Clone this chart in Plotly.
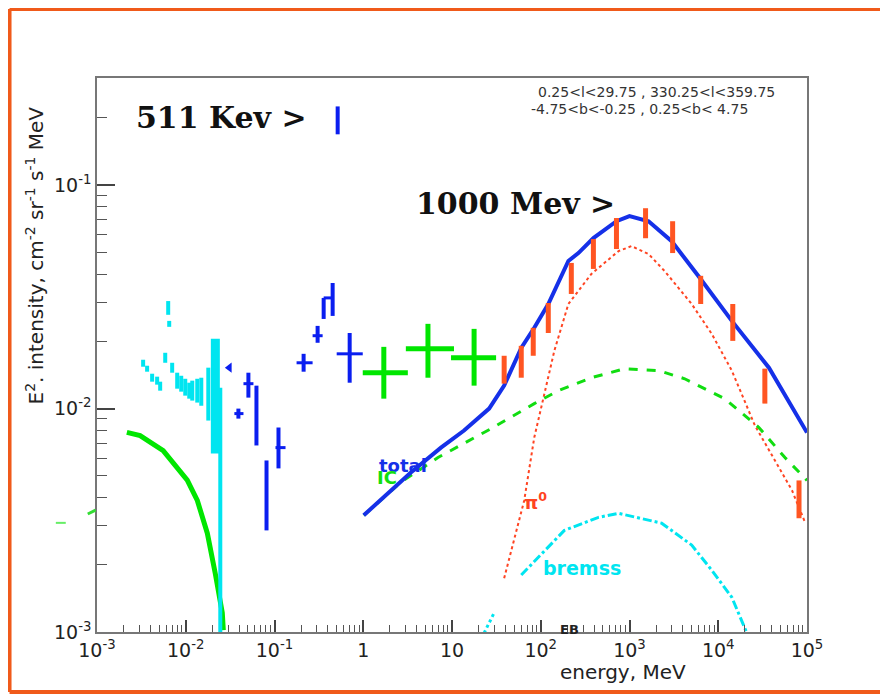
import plotly.graph_objects as go

# ---------------- data ----------------
# low-energy thick green model curve
lowE_E = [0.00217, 0.00306, 0.00557, 0.00802, 0.0104, 0.0135, 0.0175, 0.0215, 0.0258, 0.0265]
lowE_I = [0.00783, 0.00757, 0.00649, 0.00546, 0.00478, 0.00388, 0.00277, 0.00183, 0.00122, 0.00102]

# cyan low-energy data (energy, low, high)
cy_E = [0.00331, 0.00367, 0.00418, 0.00476, 0.00515, 0.00587, 0.00634, 0.00651, 0.00703,
        0.00801, 0.00889, 0.00987, 0.01095, 0.01184, 0.01348, 0.01496, 0.01795]
cy_lo = [0.01540, 0.01463, 0.01320, 0.01280, 0.01203, 0.01604, 0.02630, 0.02323, 0.01448,
         0.01228, 0.01191, 0.01143, 0.01108, 0.01086, 0.01064, 0.01030, 0.00884]
cy_hi = [0.01655, 0.01556, 0.01433, 0.01390, 0.01320, 0.01778, 0.03030, 0.02470, 0.01604,
         0.01448, 0.01403, 0.01360, 0.01306, 0.01334, 0.01360, 0.01375, 0.01525]
cy_big_E = [0.02155]
cy_big_lo = [0.0063]
cy_big_hi = [0.02053]
cy_last_E = [0.0245]
cy_last_lo = [0.0005]
cy_last_hi = [0.0124]

# blue data: vertical error bars
bl_E = [0.0392, 0.0508, 0.0626, 0.0813, 0.1109, 0.2128, 0.306, 0.358, 0.452, 0.703, 0.515]
bl_lo = [0.00902, 0.0112, 0.00684, 0.00285, 0.0054, 0.01463, 0.01971, 0.0252, 0.0260, 0.01306, 0.169]
bl_hi = [0.0100, 0.01448, 0.01267, 0.00586, 0.00823, 0.01759, 0.02346, 0.0313, 0.0365, 0.0218, 0.2253]
# blue data: horizontal error bars
blh_I = [0.0095, 0.01293, 0.00669, 0.01604, 0.0212, 0.0313, 0.01759]
blh_lo = [0.0353, 0.0447, 0.1026, 0.1773, 0.2687, 0.358, 0.502]
blh_hi = [0.0447, 0.0579, 0.1331, 0.2687, 0.3486, 0.452, 0.987]
bl_arrow_E = [0.0310]
bl_arrow_I = [0.01525]

# green crosses
gr_E = [1.705, 5.36, 17.74]
gr_Elo = [0.987, 3.02, 9.75]
gr_Ehi = [3.18, 10.53, 31.4]
gr_I = [0.01448, 0.01854, 0.0169]
gr_Ilo = [0.01108, 0.01375, 0.01267]
gr_Ihi = [0.0189, 0.02396, 0.02275]

# red (EGRET) data
rd_E = [38.7, 60.3, 82.3, 121.6, 221, 392, 713, 1517, 3062, 6340, 14580, 33500, 81300]
rd_lo = [0.01293, 0.01375, 0.01724, 0.0218, 0.0326, 0.0422, 0.0518, 0.0579, 0.0497,
         0.0294, 0.0201, 0.01053, 0.00323]
rd_hi = [0.01724, 0.0191, 0.0230, 0.0297, 0.0449, 0.0574, 0.0713, 0.0789, 0.0690,
         0.0393, 0.0294, 0.0151, 0.00477]

# model curves
tot_E = [1.013, 3.44, 7.51, 13.67, 26.2, 38.7, 60.3, 84.5, 121.6, 204.8, 265.5, 392, 713,
         1000, 1640, 2985, 6180, 14220, 37240, 100000]
tot_I = [0.00333, 0.00518, 0.00669, 0.00798, 0.0100, 0.01267, 0.01871, 0.0230, 0.0294,
         0.0458, 0.0497, 0.0580, 0.0690, 0.0727, 0.0690, 0.0562, 0.0385, 0.0247, 0.01525, 0.00781]

ic_E = [1.013, 2.65, 6.95, 27.6, 84.5, 157.8, 372, 879, 2130, 4190, 11840, 28700, 56400, 100000]
ic_I = [0.00333, 0.00468, 0.00604, 0.00814, 0.01053, 0.01203, 0.01375, 0.01509, 0.01479,
        0.0136, 0.01108, 0.00823, 0.00604, 0.00477]

pi_E = [38.7, 48.9, 65.1, 84.5, 109.6, 142.3, 204.8, 372, 752, 1054, 1640, 2485, 5020,
        8450, 14220, 25900, 43500, 67700, 94900]
pi_I = [0.00174, 0.00249, 0.00388, 0.00742, 0.01143, 0.01815, 0.0294, 0.0401, 0.0507,
        0.0534, 0.0492, 0.0413, 0.0294, 0.0216, 0.01479, 0.00840, 0.00586, 0.00431, 0.0031]

br_E = [60.3, 93.7, 184.5, 447, 752, 2300, 5020, 8450, 14220, 21000]
br_I = [0.0018, 0.00216, 0.00285, 0.00326, 0.0034, 0.00307, 0.00245, 0.00189, 0.00143, 0.00099]
br2_E = [23.0, 29.9]
br2_I = [0.00099, 0.00122]

x_tickvals = [1e-3, 1e-2, 1e-1, 1, 10, 1e2, 1e3, 1e4, 1e5]
x_ticktext = ["10<sup>-3</sup>", "10<sup>-2</sup>", "10<sup>-1</sup>", "1", "10",
              "10<sup>2</sup>", "10<sup>3</sup>", "10<sup>4</sup>", "10<sup>5</sup>"]
y_tickvals = [1e-3, 1e-2, 1e-1]
y_ticktext = ["10<sup>-3</sup>", "10<sup>-2</sup>", "10<sup>-1</sup>"]


# ---------------- helpers ----------------
def vsegs(xs, lo, hi):
    X, Y = [], []
    for x, a, b in zip(xs, lo, hi):
        X += [x, x, None]
        Y += [a, b, None]
    return X, Y


def hsegs(ys, lo, hi):
    X, Y = [], []
    for y, a, b in zip(ys, lo, hi):
        X += [a, b, None]
        Y += [y, y, None]
    return X, Y


GREEN = "#00e600"
CYAN = "#00e5f0"
BLUE = "#0a1ef0"
RED = "#ff5522"
ORANGE = "#f05a1a"

fig = go.Figure()

# model curves
fig.add_trace(go.Scatter(x=br_E, y=br_I, mode="lines",
                         line=dict(color=CYAN, width=3, dash="dashdot")))
fig.add_trace(go.Scatter(x=br2_E, y=br2_I, mode="lines",
                         line=dict(color=CYAN, width=3, dash="dot")))
fig.add_trace(go.Scatter(x=pi_E, y=pi_I, mode="lines",
                         line=dict(color="#ff4422", width=2, dash="dot")))
fig.add_trace(go.Scatter(x=ic_E, y=ic_I, mode="lines",
                         line=dict(color="#11dd11", width=3, dash="dash")))
fig.add_trace(go.Scatter(x=tot_E, y=tot_I, mode="lines",
                         line=dict(color="#1530e8", width=4)))
fig.add_trace(go.Scatter(x=lowE_E, y=lowE_I, mode="lines",
                         line=dict(color=GREEN, width=5)))

# cyan data
X, Y = vsegs(cy_E, cy_lo, cy_hi)
fig.add_trace(go.Scatter(x=X, y=Y, mode="lines", line=dict(color=CYAN, width=4)))
X, Y = vsegs(cy_big_E, cy_big_lo, cy_big_hi)
fig.add_trace(go.Scatter(x=X, y=Y, mode="lines", line=dict(color=CYAN, width=9)))
X, Y = vsegs(cy_last_E, cy_last_lo, cy_last_hi)
fig.add_trace(go.Scatter(x=X, y=Y, mode="lines", line=dict(color=CYAN, width=4)))

# blue data
X, Y = vsegs(bl_E, bl_lo, bl_hi)
fig.add_trace(go.Scatter(x=X, y=Y, mode="lines", line=dict(color=BLUE, width=4)))
X, Y = hsegs(blh_I, blh_lo, blh_hi)
fig.add_trace(go.Scatter(x=X, y=Y, mode="lines", line=dict(color=BLUE, width=3)))
fig.add_trace(go.Scatter(x=bl_arrow_E, y=bl_arrow_I, mode="markers",
                         marker=dict(symbol="triangle-left", size=9, color=BLUE)))

# green crosses
X, Y = vsegs(gr_E, gr_Ilo, gr_Ihi)
fig.add_trace(go.Scatter(x=X, y=Y, mode="lines", line=dict(color=GREEN, width=5)))
X, Y = hsegs(gr_I, gr_Elo, gr_Ehi)
fig.add_trace(go.Scatter(x=X, y=Y, mode="lines", line=dict(color=GREEN, width=5)))

# red data
X, Y = vsegs(rd_E, rd_lo, rd_hi)
fig.add_trace(go.Scatter(x=X, y=Y, mode="lines", line=dict(color=RED, width=5)))

minor_vals = [m * 10.0 ** k for k in range(-3, 5) for m in range(2, 10)]

fig.update_layout(
    width=880, height=688,
    margin=dict(l=89, r=81, t=70, b=64),
    paper_bgcolor="white", plot_bgcolor="white",
    showlegend=False,
    font=dict(family="DejaVu Sans", color="#222"),
    xaxis=dict(type="log", range=[-3, 5], showgrid=False, zeroline=False,
               showline=True, linecolor="#777", linewidth=1.5, mirror=True,
               ticks="inside", ticklen=12, tickcolor="#444", tickwidth=1.5,
               tickmode="array", tickvals=x_tickvals, ticktext=x_ticktext,
               tickfont=dict(size=19, family="DejaVu Sans", color="#222"),
               minor=dict(tickmode="array", tickvals=minor_vals, ticks="inside",
                          ticklen=7, tickcolor="#555", tickwidth=1, showgrid=False)),
    yaxis=dict(type="log", range=[-3, -0.52], showgrid=False, zeroline=False,
               showline=True, linecolor="#777", linewidth=1.5, mirror=True,
               ticks="inside", ticklen=18, tickcolor="#444", tickwidth=1.5,
               tickmode="array", tickvals=y_tickvals, ticktext=y_ticktext,
               tickfont=dict(size=19, family="DejaVu Sans", color="#222"),
               minor=dict(tickmode="array", tickvals=minor_vals, ticks="inside",
                          ticklen=10, tickcolor="#555", tickwidth=1, showgrid=False)),
)

ann = []
ann.append(dict(text="energy, MeV", xref="paper", yref="paper", x=0.833, y=-0.072,
                xanchor="right", yanchor="middle", showarrow=False,
                font=dict(size=20, family="DejaVu Sans", color="#222")))
ann.append(dict(text="E<sup>2</sup>. intensity, cm<sup>-2</sup> sr<sup>-1</sup> s<sup>-1</sup> MeV",
                xref="paper", yref="paper", x=-0.087, y=0.68, textangle=-90,
                xanchor="center", yanchor="middle", showarrow=False,
                font=dict(size=20, family="DejaVu Sans", color="#222")))
ann.append(dict(text="<b>511 Kev ></b>", xref="paper", yref="paper", x=0.176, y=0.928,
                xanchor="center", yanchor="middle", showarrow=False,
                font=dict(size=30, family="DejaVu Serif", color="#111")))
ann.append(dict(text="<b>1000 Mev ></b>", xref="paper", yref="paper", x=0.59, y=0.774,
                xanchor="center", yanchor="middle", showarrow=False,
                font=dict(size=30, family="DejaVu Serif", color="#111")))
ann.append(dict(text="0.25<l<29.75 , 330.25<l<359.75", xref="paper", yref="paper",
                x=0.618, y=0.975, xanchor="left", yanchor="middle", showarrow=False,
                font=dict(size=14, family="DejaVu Sans", color="#333")))
ann.append(dict(text="-4.75<b<-0.25 , 0.25<b< 4.75", xref="paper", yref="paper",
                x=0.608, y=0.944, xanchor="left", yanchor="middle", showarrow=False,
                font=dict(size=14, family="DejaVu Sans", color="#333")))
ann.append(dict(text="<b>total</b>", xref="paper", yref="paper", x=0.431, y=0.300,
                xanchor="center", yanchor="middle", showarrow=False,
                font=dict(size=18, family="DejaVu Sans", color="#1530e8")))
ann.append(dict(text="<b>IC</b>", xref="paper", yref="paper", x=0.408, y=0.278,
                xanchor="center", yanchor="middle", showarrow=False,
                font=dict(size=18, family="DejaVu Sans", color="#11dd11")))
ann.append(dict(text="<b>π<sup>0</sup></b>", xref="paper", yref="paper", x=0.618, y=0.237,
                xanchor="center", yanchor="middle", showarrow=False,
                font=dict(size=18, family="DejaVu Sans", color="#ff4422")))
ann.append(dict(text="<b>bremss</b>", xref="paper", yref="paper", x=0.683, y=0.116,
                xanchor="center", yanchor="middle", showarrow=False,
                font=dict(size=19, family="DejaVu Sans", color=CYAN)))
ann.append(dict(text="<b>EB</b>", xref="paper", yref="paper", x=0.665, y=0.004,
                xanchor="center", yanchor="middle", showarrow=False,
                font=dict(size=13, family="DejaVu Sans", color="#222")))
fig.update_layout(annotations=ann)

fig.update_layout(shapes=[
    dict(type="line", xref="paper", yref="paper", x0=-0.1232, x1=1.3, y0=1.1245, y1=1.1245,
         line=dict(color=ORANGE, width=4), layer="above"),
    dict(type="line", xref="paper", yref="paper", x0=-0.1232, x1=-0.1232, y0=-0.1083, y1=1.1245,
         line=dict(color=ORANGE, width=4), layer="above"),
    dict(type="line", xref="paper", yref="paper", x0=-0.1232, x1=1.3, y0=-0.1083, y1=-0.1083,
         line=dict(color=ORANGE, width=4), layer="above"),
    dict(type="line", xref="paper", yref="paper", x0=-0.058, x1=-0.044, y0=0.197, y1=0.197,
         line=dict(color="#66ee66", width=2)),
    dict(type="line", xref="paper", yref="paper", x0=-0.013, x1=-0.002, y0=0.213, y1=0.220,
         line=dict(color="#33dd33", width=3)),
])

fig.write_html("out.html")
